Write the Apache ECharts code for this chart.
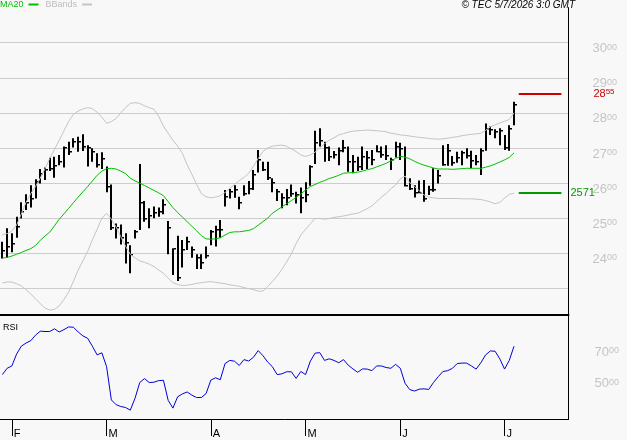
<!DOCTYPE html>
<html>
<head>
<meta charset="utf-8">
<script src="https://cdn.jsdelivr.net/npm/echarts@6/dist/echarts.min.js"></script>
<style>
html,body{margin:0;padding:0;background:#f8f8f8}
#chart{width:627px;height:440px}
</style>
</head>
<body>
<div id="chart"></div>
<script>
// daily bars
var highs = [2433,2471,2457,2504,2545,2568,2594,2611,2640,2644,
	2672,2675,2680,2704,2718,2728,2732,2739,2708,2699,
	2685,2688,2647,2596,2485,2482,2457,2423,2466,2654,
	2549,2528,2533,2530,2554,2492,2414,2450,2438,2447,
	2419,2397,2397,2419,2466,2478,2495,2580,2583,2594,
	2561,2594,2606,2637,2694,2661,2661,2614,2583,2571,
	2583,2596,2575,2587,2602,2651,2749,2756,2718,2704,
	2691,2701,2723,2704,2680,2675,2704,2691,2694,2708,
	2704,2708,2672,2718,2715,2704,2614,2594,2607,2609,
	2592,2642,2637,2708,2711,2677,2689,2692,2699,2692,
	2680,2699,2770,2761,2753,2756,2737,2765,2832];
var lows = [2385,2387,2403,2444,2499,2523,2530,2556,2599,2609,
	2634,2615,2651,2644,2680,2701,2689,2691,2647,2661,
	2644,2640,2574,2466,2442,2425,2371,2343,2442,2466,
	2490,2471,2500,2504,2511,2397,2338,2321,2359,2409,
	2387,2355,2355,2385,2423,2419,2444,2533,2556,2558,
	2525,2564,2568,2580,2630,2634,2609,2574,2549,2528,
	2537,2561,2542,2514,2545,2592,2654,2704,2661,2663,
	2670,2651,2688,2632,2628,2634,2637,2640,2651,2688,
	2672,2666,2637,2673,2666,2590,2580,2559,2571,2547,
	2566,2575,2599,2649,2649,2649,2658,2651,2670,2642,
	2651,2623,2692,2737,2728,2708,2694,2692,2765];
var closes = [2406,2419,2425,2476,2518,2542,2554,2602,2625,2636,
	2639,2649,2661,2699,2688,2718,2718,2704,2699,2688,
	2651,2668,2590,2471,2471,2442,2428,2395,2460,2542,
	2497,2507,2514,2518,2537,2473,2411,2329,2409,2431,
	2409,2385,2371,2393,2460,2466,2466,2561,2575,2580,
	2542,2568,2583,2623,2666,2637,2614,2599,2575,2556,
	2556,2568,2566,2558,2566,2645,2713,2720,2701,2675,
	2680,2691,2701,2661,2659,2647,2675,2670,2666,2689,
	2680,2677,2666,2704,2697,2592,2582,2571,2573,2554,
	2580,2580,2620,2651,2692,2656,2670,2685,2677,2664,
	2661,2692,2753,2751,2746,2749,2699,2753,2822];
var ma20 = [2386,2388,2392,2397,2402,2408,2413,2422,2437,2449,
	2460,2478,2497,2512,2528,2544,2560,2575,2590,2606,
	2622,2634,2641,2642,2640,2634,2627,2614,2606,2600,
	2593,2586,2579,2572,2564,2547,2530,2516,2503,2490,
	2477,2464,2450,2441,2440,2441,2444,2452,2459,2461,
	2461,2463,2465,2470,2480,2490,2500,2514,2523,2532,
	2541,2550,2559,2569,2580,2590,2596,2602,2607,2613,
	2617,2622,2628,2629,2630,2631,2634,2638,2641,2646,
	2651,2656,2663,2670,2676,2674,2669,2662,2656,2651,
	2647,2643,2640,2640,2640,2639,2640,2641,2642,2642,
	2642,2642,2645,2649,2654,2660,2666,2673,2686];
var bbUpper = [2453,2456,2463,2480,2512,2545,2570,2590,2614,2641,
	2670,2696,2722,2749,2776,2796,2805,2811,2815,2812,
	2802,2788,2770,2775,2784,2800,2815,2827,2829,2827,
	2820,2815,2810,2790,2762,2742,2722,2705,2685,2652,
	2625,2596,2570,2561,2558,2560,2564,2573,2585,2596,
	2607,2616,2628,2648,2670,2690,2700,2705,2707,2708,
	2705,2697,2690,2680,2676,2680,2688,2700,2712,2722,
	2729,2737,2741,2745,2748,2749,2750,2751,2750,2749,
	2748,2746,2742,2740,2737,2736,2734,2732,2730,2729,
	2727,2726,2725,2726,2728,2730,2732,2735,2737,2739,
	2740,2742,2750,2760,2766,2771,2776,2781,2800];
var bbLower = [2315,2318,2318,2313,2307,2296,2284,2270,2256,2244,
	2238,2240,2250,2268,2290,2320,2352,2378,2405,2438,
	2468,2500,2514,2497,2475,2447,2420,2397,2387,2378,
	2374,2369,2362,2352,2343,2329,2316,2311,2308,2309,
	2311,2314,2316,2318,2319,2317,2315,2313,2310,2308,
	2306,2302,2299,2296,2292,2292,2305,2320,2335,2354,
	2375,2398,2427,2452,2468,2484,2499,2499,2497,2499,
	2502,2504,2506,2509,2512,2514,2520,2527,2535,2547,
	2560,2570,2584,2594,2612,2620,2601,2590,2578,2566,
	2560,2558,2556,2556,2556,2556,2556,2555,2555,2555,
	2554,2553,2550,2546,2541,2545,2557,2568,2571];
var rsi = [52,56,57.5,65,70,72,73.5,77,79.5,79.3,
	79.3,81,79,80.5,82.2,82,79,76.5,75,70,
	64.5,65.8,57,36,33,31.8,31.2,29.5,37,47,
	49.5,47,47.2,48.2,48.4,35.7,30.8,38,39.8,41,
	39,37.5,37.5,40,48.5,50,48.8,59,61,60.5,
	57.8,61.5,60.6,63,67.2,64,60,57,52,52.5,
	53.8,53.8,49.6,54,52,60.5,65.6,65.9,61,62,
	61,59.5,61.5,58,55.6,53.5,55.6,55.5,54.5,57.5,
	57.5,56.5,56,58.5,56,46.5,42.5,41.6,42.8,43,
	42.6,47,50.7,54,54.5,56,59,59.3,59.3,57.5,
	55.5,59.5,64.5,67,66.8,62,55.5,61,70];

var targetHigh = 2855;
var targetLow = 2571;
var priceLabels = [2400,2500,2600,2700,2800,2900,3000];
var rsiLabels = [50,70];
var monthInitials = ['J','F','M','A','M','J','J','A','S','O','N','D'];
var holidays = ['2026-04-03','2026-04-06','2026-05-01'];
var firstDay = '2026-01-29';
var slotCount = 120;

function tradingDays(start, count) {
	var out = [];
	var d = new Date(start + 'T00:00:00Z');
	while (out.length < count) {
		var s = d.toISOString().slice(0, 10);
		var wd = d.getUTCDay();
		if (wd != 0 && wd != 6 && holidays.indexOf(s) < 0) out.push(s);
		d.setUTCDate(d.getUTCDate() + 1);
	}
	return out;
}
var days = tradingDays(firstDay, slotCount);

function isMonthStart(i) {
	return i > 0 && days[i].slice(5, 7) != days[i - 1].slice(5, 7);
}
var monthStarts = [];
for (var m = 0; m < days.length; m++) {
	if (isMonthStart(m)) monthStarts.push(m);
}

var bars = [];
for (var i = 0; i < highs.length; i++) {
	bars.push([i, highs[i], lows[i], closes[i]]);
}

function renderBar(params, api) {
	var idx = api.value(0);
	var hi = api.coord([idx, api.value(1)]);
	var lo = api.coord([idx, api.value(2)]);
	var cl = api.coord([idx, api.value(3)]);
	var x = Math.round(hi[0]);
	return {
		type: 'group',
		children: [
			{ type: 'rect', shape: { x: x - 1, y: hi[1], width: 2, height: lo[1] - hi[1] }, style: { fill: '#000' } },
			{ type: 'rect', shape: { x: x + 1, y: Math.round(cl[1]) - 1, width: 2, height: 1.5 }, style: { fill: '#000' } }
		]
	};
}

var grey = '#c4c4c4';
var font = 'Liberation Sans';

var dom = document.getElementById('chart');
var myChart = echarts.init(dom);
var option = {
	animation: false,
	backgroundColor: '#f8f8f8',
	textStyle: { fontFamily: font },
	title: [
		{ text: 'RSI', left: 3, top: 323, padding: 0, textStyle: { fontSize: 9, fontWeight: 'normal', color: '#000', fontFamily: font } },
		{ text: '\u00a9 TEC 5/7/2026 3:0 GMT', right: 52, top: 0, padding: 0, textStyle: { fontSize: 10, fontStyle: 'italic', fontWeight: 'normal', color: '#000', fontFamily: font } }
	],
	legend: {
		left: 0, top: 0, padding: 0,
		align: 'right',
		itemWidth: 10, itemHeight: 2, itemGap: 7,
		icon: 'rect',
		textStyle: { fontSize: 9, padding: [0, 0, 0, 0] },
		data: [
			{ name: 'MA20', textStyle: { color: '#00c000' } },
			{ name: 'BBands', textStyle: { color: '#bdbdbd' } }
		]
	},
	grid: [
		{ left: 0, width: 568.5, top: 7.6, height: 315.8 },
		{ left: 0, width: 568.5, top: 315, height: 104 }
	],
	xAxis: [
		{ type: 'category', gridIndex: 0, data: days, show: false },
		{
			type: 'category', gridIndex: 1, data: days, position: 'bottom',
			axisLine: { show: true, lineStyle: { color: '#000', width: 1 } },
			axisTick: {
				show: true, alignWithLabel: true, inside: false, length: 17,
				interval: function (idx) { return monthStarts.indexOf(idx) >= 0; },
				customValues: monthStarts,
				lineStyle: { color: '#000', width: 1 }
			},
			axisLabel: {
				interval: function (idx) { return monthStarts.indexOf(idx) >= 0; },
				formatter: function (v) { return monthInitials[parseInt(v.slice(5, 7), 10) - 1]; },
				align: 'left', verticalAlign: 'top', margin: 9, padding: [0, 0, 0, 2],
				color: '#000', fontSize: 11, fontFamily: font
			},
			splitLine: { show: false }
		},
		{
			type: 'category', gridIndex: 1, data: days, position: 'top',
			axisLine: { lineStyle: { color: '#000', width: 2 } },
			axisTick: { show: false }, axisLabel: { show: false }
		}
	],
	yAxis: [
		{
			type: 'value', gridIndex: 0, position: 'right',
			min: 2200, max: 3100, interval: 100,
			axisLine: { show: true, lineStyle: { color: '#000' } },
			axisTick: { show: false },
			splitLine: { show: true, showMinLine: false, showMaxLine: false, lineStyle: { color: '#cccccc', width: 1 } },
			axisLabel: {
				margin: 24, verticalAlign: 'top',
				formatter: function (v) {
					if (priceLabels.indexOf(v) < 0) return '';
					var s = String(v);
					return '{a|' + s.slice(0, 2) + '}{b|' + s.slice(2) + '}';
				},
				rich: {
					a: { fontSize: 13, color: grey, fontFamily: font, lineHeight: 12 },
					b: { fontSize: 9, color: grey, fontFamily: font, verticalAlign: 'top', lineHeight: 12 }
				}
			}
		},
		{
			type: 'value', gridIndex: 1, position: 'right',
			min: 23.9, max: 89.75,
			axisLine: { show: true, lineStyle: { color: '#000' } },
			axisTick: { show: false },
			splitLine: { show: false },
			axisLabel: {
				customValues: rsiLabels,
				margin: 26, verticalAlign: 'top',
				formatter: function (v) {
					return '{a|' + Math.round(v) + '}{b|00}';
				},
				rich: {
					a: { fontSize: 13, color: grey, fontFamily: font, lineHeight: 12 },
					b: { fontSize: 9, color: grey, fontFamily: font, verticalAlign: 'top', lineHeight: 12 }
				}
			}
		}
	],
	series: [
		{
			name: 'BBands', type: 'line', xAxisIndex: 0, yAxisIndex: 0,
			data: bbUpper, showSymbol: false, silent: true,
			lineStyle: { color: '#c4c4c4', width: 1 }, itemStyle: { color: '#c4c4c4' }
		},
		{
			name: 'BBands', type: 'line', xAxisIndex: 0, yAxisIndex: 0,
			data: bbLower, showSymbol: false, silent: true,
			lineStyle: { color: '#c4c4c4', width: 1 }, itemStyle: { color: '#c4c4c4' }
		},
		{
			name: 'MA20', type: 'line', xAxisIndex: 0, yAxisIndex: 0,
			data: ma20, showSymbol: false, silent: true,
			lineStyle: { color: '#00c000', width: 1 }, itemStyle: { color: '#00c000' },
			markLine: {
				silent: true, symbol: ['none', 'none'], animation: false,
				data: [
					[
						{
							coord: [days[109], targetHigh], lineStyle: { color: '#cc0000', width: 2, type: 'solid' },
							label: {
								show: true, position: 'end', distance: 32,
								formatter: function () { var s = String(targetHigh); return '{a|' + s.slice(0, 2) + '}{b|' + s.slice(2) + '}'; },
								rich: {
									a: { fontSize: 11, color: '#cc0000', fontFamily: font, lineHeight: 11 },
									b: { fontSize: 8, color: '#cc0000', fontFamily: font, verticalAlign: 'top', lineHeight: 11 }
								}
							}
						},
						{ coord: [days[118], targetHigh] }
					],
					[
						{
							coord: [days[109], targetLow], lineStyle: { color: '#009900', width: 2, type: 'solid' },
							label: { show: true, position: 'end', distance: 9, formatter: String(targetLow), color: '#009900', fontSize: 11, fontFamily: font }
						},
						{ coord: [days[118], targetLow] }
					]
				]
			}
		},
		{
			name: 'Price', type: 'custom', xAxisIndex: 0, yAxisIndex: 0,
			renderItem: renderBar, data: bars,
			encode: { x: 0, y: [1, 2, 3] }, silent: true
		},
		{
			name: 'RSI', type: 'line', xAxisIndex: 1, yAxisIndex: 1,
			data: rsi, showSymbol: false, silent: true,
			lineStyle: { color: '#0000dd', width: 1 }
		}
	]
};
if (option && typeof option === "object") {
	myChart.setOption(option, true);
}
</script>
</body>
</html>
